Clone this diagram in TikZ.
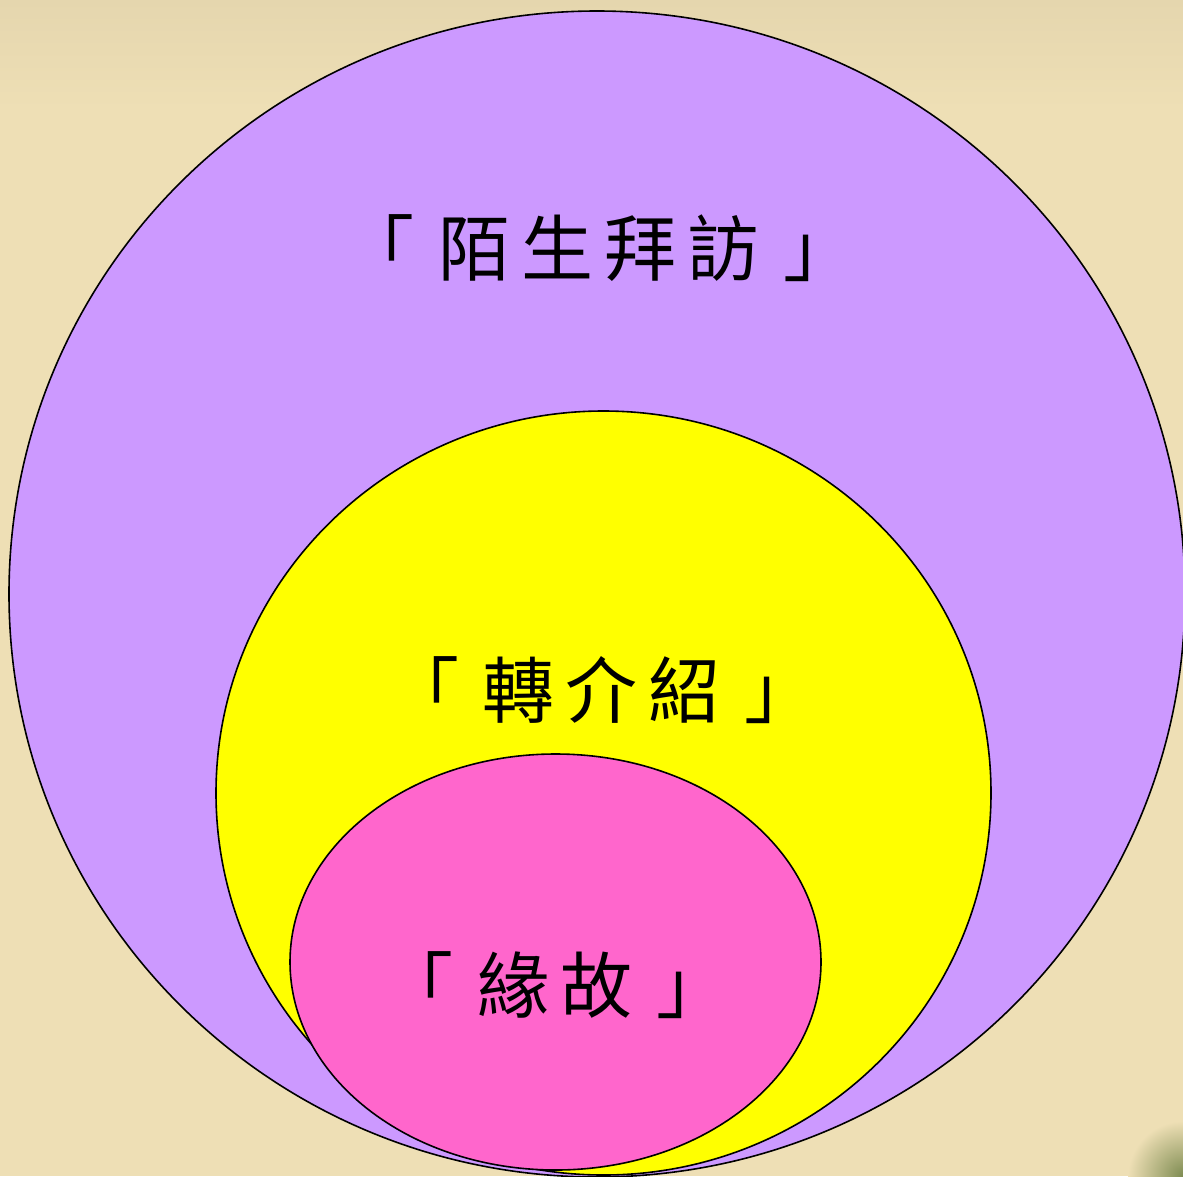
\documentclass[tikz,border=0pt]{standalone}
\usepackage{fontspec}
\newfontfamily\cjk{Noto Sans CJK TC}
\definecolor{bg}{HTML}{EEDFB5}
\definecolor{bgtop}{HTML}{E5D6AE}
\definecolor{purp}{HTML}{CC99FF}
\definecolor{yel}{HTML}{FFFF00}
\definecolor{pnk}{HTML}{FF66CC}
\definecolor{blob}{HTML}{7E8C52}
\newcommand{\gapk}{\kern11pt}
\newcommand{\brk}{\kern24pt}
\begin{document}
\begin{tikzpicture}[x=1pt,y=-1pt,
  ring/.style={draw=black, line width=1.6pt},
  lab/.style={font=\cjk\fontsize{72}{80}\selectfont, text=black, inner sep=0pt}]
\useasboundingbox (0,0) rectangle (1183,1176);
\fill[bg] (0,0) rectangle (1183,1176);
\shade[top color=bgtop, bottom color=bg] (0,0) rectangle (1183,110);
\begin{scope}
\clip (0,0) rectangle (1183,1176);
\shade[inner color=blob, outer color=bg] (1183,1176) circle [radius=55pt];
\end{scope}
\path[ring, fill=purp] (597,594) ellipse [x radius=588pt, y radius=583pt];
\path[ring, fill=yel] (603.5,793) ellipse [x radius=387.5pt, y radius=382pt];
\path[ring, fill=pnk] (555.5,962) ellipse [x radius=265.5pt, y radius=208pt];
\node[lab] (t1) at (599,248) {「\brk 陌\gapk 生\gapk 拜\gapk 訪\brk 」};
\node[lab] (t2) at (602,690) {「\brk 轉\gapk 介\gapk 紹\brk 」};
\node[lab] (t3) at (555,985) {「\brk 緣\gapk 故\brk 」};
\end{tikzpicture}
\end{document}
